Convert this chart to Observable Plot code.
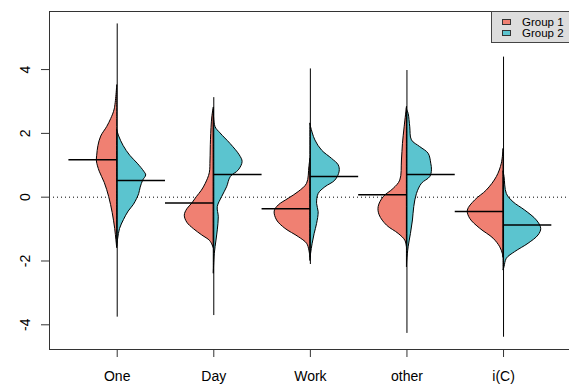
<!DOCTYPE html>
<html><head><meta charset="utf-8">
<script src="https://cdn.jsdelivr.net/npm/d3@7"></script>
<script src="https://cdn.jsdelivr.net/npm/@observablehq/plot@0.6"></script>
<style>
html,body{margin:0;padding:0;background:#fff;}
#wrap{position:relative;width:569px;height:387px;font-family:"Liberation Sans",Arial,sans-serif;overflow:hidden;}
#wrap svg{display:block;}
#legend{position:absolute;left:491px;top:11px;width:90px;height:32px;background:#dddddd;border:1px solid #444;box-sizing:border-box;}
.sw{position:absolute;left:10px;width:9px;height:6px;border:1px solid #333;box-sizing:border-box;}
.lt{position:absolute;left:30px;font-size:11.5px;line-height:10px;height:10px;color:#000;white-space:nowrap;}
</style></head>
<body>
<div id="wrap"></div>
<script>
const categories = ["One", "Day", "Work", "other", "i(C)"];
const groups = ["Group 1", "Group 2"];
const colors = ["#F08072", "#5BC4CF"];
const yTicks = [-4, -2, 0, 2, 4];
const medians1 = [1.17, -0.18, -0.36, 0.08, -0.45];
const medians2 = [0.52, 0.71, 0.65, 0.71, -0.87];
const rangeMin = [-3.76, -3.71, -2.11, -4.27, -4.39];
const rangeMax = [5.43, 3.12, 4.02, 3.97, 4.39];
// density profiles: [value, relative density] per category (Group 1 left, Group 2 right)
const dens1 = [
  [[3.5,0],[2.75,2.5],[2.45,6],[2.2,10],[1.9,16],[1.6,18.8],[1.3,20],[1.12,20.3],[0.8,17.5],[0.45,12.5],[0.0,8],[-0.5,4.5],[-1.0,2],[-1.35,0.8],[-1.6,0]],
  [[2.8,0],[2.5,1.5],[1.8,2.8],[1.15,3.3],[0.75,4],[0.42,8],[0.2,12],[0,17],[-0.2,21.5],[-0.38,26.5],[-0.58,29],[-0.8,26.5],[-1.0,20],[-1.2,11.5],[-1.38,3.5],[-1.6,0]],
  [[1.2,0],[0.94,1],[0.42,3.3],[0.16,11.7],[-0.05,21.7],[-0.26,31.7],[-0.45,35.7],[-0.73,33.3],[-0.99,25],[-1.25,11.7],[-1.46,3.3],[-1.67,1],[-1.9,0]],
  [[2.82,0],[2.19,2.3],[1.67,4],[1.15,5],[0.52,6.7],[0.26,13.3],[0,23.3],[-0.31,28.3],[-0.57,27.3],[-0.89,20],[-1.15,8.3],[-1.36,1.7],[-1.57,0]],
  [[1.5,0],[1.05,1.7],[0.63,6.7],[0.21,16.7],[-0.1,28.3],[-0.42,35.7],[-0.68,33.3],[-0.99,23.3],[-1.3,10],[-1.57,3.3],[-1.78,0.7],[-1.9,0]]
];
const dens2 = [
  [[2.1,0],[1.9,2],[1.6,6.5],[1.3,13],[1.05,20.5],[0.8,27],[0.68,29],[0.52,26],[0.3,23.5],[0.1,22],[-0.05,20],[-0.25,16.5],[-0.45,11.5],[-0.72,6.7],[-1.0,2.8],[-1.3,1],[-1.55,0]],
  [[2.72,0],[2.2,1.7],[2.0,6.7],[1.67,16.7],[1.31,26],[1.1,28.8],[0.84,25],[0.63,17],[0.31,13.3],[0,8.3],[-0.31,4],[-0.63,5],[-1.04,4],[-1.36,2.7],[-1.78,1],[-2.4,0]],
  [[2.3,0],[2.19,0.7],[1.78,5],[1.46,11.7],[1.2,21.7],[1.0,28.3],[0.8,29.3],[0.52,25],[0.31,15],[0.1,8.3],[-0.21,6.7],[-0.47,8.3],[-0.84,6.7],[-1.15,4.3],[-1.46,2.3],[-1.78,0.7],[-2.0,0]],
  [[2.75,0],[2.61,1.7],[2.19,3.3],[1.78,5],[1.57,13.3],[1.36,21.7],[1.05,24.3],[0.84,25],[0.63,23.3],[0.42,15],[0.1,10],[-0.31,7.3],[-0.73,6],[-1.15,4],[-1.57,1.7],[-1.99,0.3],[-2.2,0]],
  [[0.8,0],[0.63,1],[0.1,3.3],[-0.16,10],[-0.42,21.7],[-0.73,33.3],[-0.99,37.7],[-1.2,35],[-1.46,25],[-1.72,11.7],[-1.93,3.3],[-2.19,1],[-2.3,0]]
];
const densityToWidth = 1 / 96.6; // relative density -> category-width units

function rows(dens, sign) {
  const out = [];
  dens.forEach((prof, i) => prof.forEach(([v, d]) => out.push({k: i, c: i + 1, v, x2: i + 1 + sign * d * densityToWidth})));
  return out;
}
const idx = categories.map((_, i) => i);

const chart = Plot.plot({
  width: 569, height: 387,
  marginLeft: 49, marginRight: 0, marginTop: 11, marginBottom: 38,
  x: {type: "linear", domain: [0.299, 5.683]},
  y: {domain: [-4.774, 5.82]},
  style: {fontFamily: "Liberation Sans, Arial, sans-serif", fontSize: "14px", color: "#000", background: "#fff"},
  marks: [
    Plot.ruleY([0], {stroke: "#000", strokeDasharray: "1,3"}),
    Plot.areaX(rows(dens1, -1), {y: "v", x1: "c", x2: "x2", z: "k", fill: colors[0], stroke: "#000", strokeWidth: 1, curve: "catmull-rom"}),
    Plot.areaX(rows(dens2, 1), {y: "v", x1: "c", x2: "x2", z: "k", fill: colors[1], stroke: "#000", strokeWidth: 1, curve: "catmull-rom"}),
    Plot.ruleX(idx, {x: i => i + 1, y1: i => rangeMin[i], y2: i => rangeMax[i], stroke: "#000", strokeWidth: 1}),
    Plot.ruleY(idx, {y: i => medians1[i], x1: i => i + 0.5, x2: i => i + 1, stroke: "#000", strokeWidth: 1.5}),
    Plot.ruleY(idx, {y: i => medians2[i], x1: i => i + 1, x2: i => i + 1.5, stroke: "#000", strokeWidth: 1.5}),
    Plot.frame({anchor: "top", stroke: "#333"}),
    Plot.frame({anchor: "left", stroke: "#333"}),
    Plot.frame({anchor: "bottom", stroke: "#333"}),
    Plot.axisY({ticks: yTicks, tickFormat: d => String(d), tickSize: 8, tickRotate: -90, tickPadding: 12, fontSize: 14, stroke: "#333", label: null}),
    Plot.axisX({ticks: [1, 2, 3, 4, 5], tickFormat: d => categories[d - 1], tickSize: 8, tickPadding: 14, fontSize: 14, stroke: "#333", label: null})
  ]
});
const wrap = document.getElementById("wrap");
wrap.appendChild(chart);

const lg = document.createElement("div");
lg.id = "legend";
groups.forEach((g, i) => {
  const s = document.createElement("div");
  s.className = "sw";
  s.style.top = (7 + i * 10.6) + "px";
  s.style.background = colors[i];
  lg.appendChild(s);
  const t = document.createElement("div");
  t.className = "lt";
  t.style.top = (5 + i * 10.6) + "px";
  t.textContent = g;
  lg.appendChild(t);
});
wrap.appendChild(lg);
</script>
</body></html>
